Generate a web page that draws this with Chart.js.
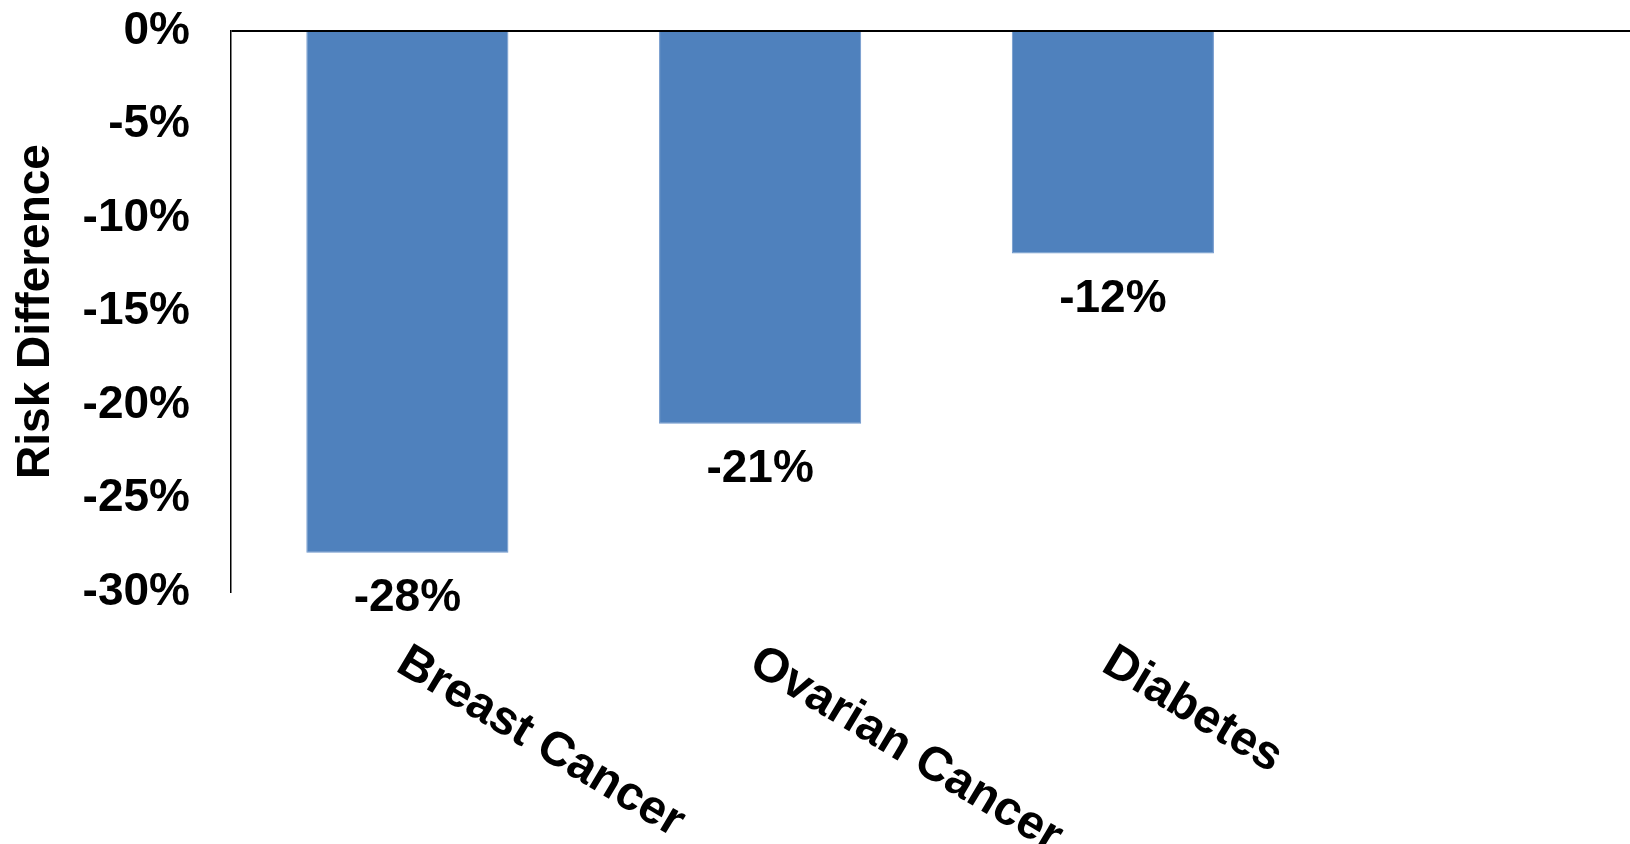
<!DOCTYPE html>
<html>
<head>
<meta charset="utf-8">
<script src="https://cdn.jsdelivr.net/npm/chart.js@4.4.1/dist/chart.umd.min.js"></script>
<style>
  html, body { margin: 0; padding: 0; background: #ffffff; overflow: hidden; }
  #wrap { width: 1630px; height: 844px; position: relative; overflow: hidden; }
  #c { display: block; }
</style>
</head>
<body>
<div id="wrap"><canvas id="c" width="1642" height="844"></canvas></div>
<script>
const categories = ['Breast Cancer', 'Ovarian Cancer', 'Diabetes', ''];
const riskDifference = [-27.9, -21.0, -11.9, null];
const valueLabels = ['-28%', '-21%', '-12%', ''];
const yTicks = [0, -5, -10, -15, -20, -25, -30];
const yTitle = 'Risk Difference';

const FONT = '"Liberation Sans", Arial, Helvetica, sans-serif';

const labelPlugin = {
  id: 'customLabels',
  afterDatasetsDraw(chart) {
    const ctx = chart.ctx;
    const meta = chart.getDatasetMeta(0);
    ctx.save();
    ctx.fillStyle = '#000';
    ctx.font = 'bold 46px ' + FONT;
    ctx.textAlign = 'center';
    ctx.textBaseline = 'middle';
    meta.data.forEach((bar, i) => {
      if (riskDifference[i] == null) return;
      ctx.fillText(valueLabels[i], bar.x, bar.y + 46);
    });
    // rotated category labels
    const xs = chart.scales.x;
    const ang = 31 * Math.PI / 180;
    ctx.font = 'bold 48px ' + FONT;
    ctx.textAlign = 'left';
    ctx.textBaseline = 'top';
    categories.forEach((c, i) => {
      if (!c) return;
      const x = xs.getPixelForTick(i) + 6;
      const y = chart.chartArea.bottom + 46;
      ctx.save();
      ctx.translate(x, y);
      ctx.rotate(ang);
      ctx.fillText(c, 0, 0);
      ctx.restore();
    });
    ctx.restore();
  }
};

new Chart(document.getElementById('c'), {
  type: 'bar',
  data: {
    labels: categories,
    datasets: [{
      data: riskDifference,
      backgroundColor: '#4F81BD',
      borderColor: '#6F97CC',
      borderWidth: 1,
      barPercentage: 0.573,
      categoryPercentage: 1.0
    }]
  },
  options: {
    responsive: false,
    animation: false,
    devicePixelRatio: 1,
    layout: { padding: { top: 31, left: 0, right: 0, bottom: 0 } },
    plugins: {
      legend: { display: false },
      tooltip: { enabled: false },
      title: { display: false }
    },
    scales: {
      x: {
        grid: { display: false },
        border: { display: false },
        ticks: { display: false },
        afterFit(scale) { scale.height = 252; scale.paddingLeft = 0; scale.paddingRight = 0; }
      },
      y: {
        min: -30,
        max: 0,
        afterBuildTicks(scale) { scale.ticks = yTicks.map(v => ({ value: v })); },
        ticks: {
          color: '#000',
          padding: 41,
          font: { family: FONT, size: 46, weight: 'bold' },
          callback: v => v + '%'
        },
        grid: {
          drawTicks: false,
          color: ctx => (ctx.tick && ctx.tick.value === 0) ? '#000' : 'rgba(0,0,0,0)',
          lineWidth: ctx => (ctx.tick && ctx.tick.value === 0) ? 2 : 0
        },
        border: { display: true, color: '#000', width: 1.5 },
        title: {
          display: true,
          text: yTitle,
          color: '#000',
          font: { family: FONT, size: 46, weight: 'bold' },
          padding: { top: 9, bottom: 0 }
        },
        afterFit(scale) { scale.width = 231; scale.paddingTop = 0; scale.paddingBottom = 0; }
      }
    }
  },
  plugins: [labelPlugin]
});
</script>
</body>
</html>
